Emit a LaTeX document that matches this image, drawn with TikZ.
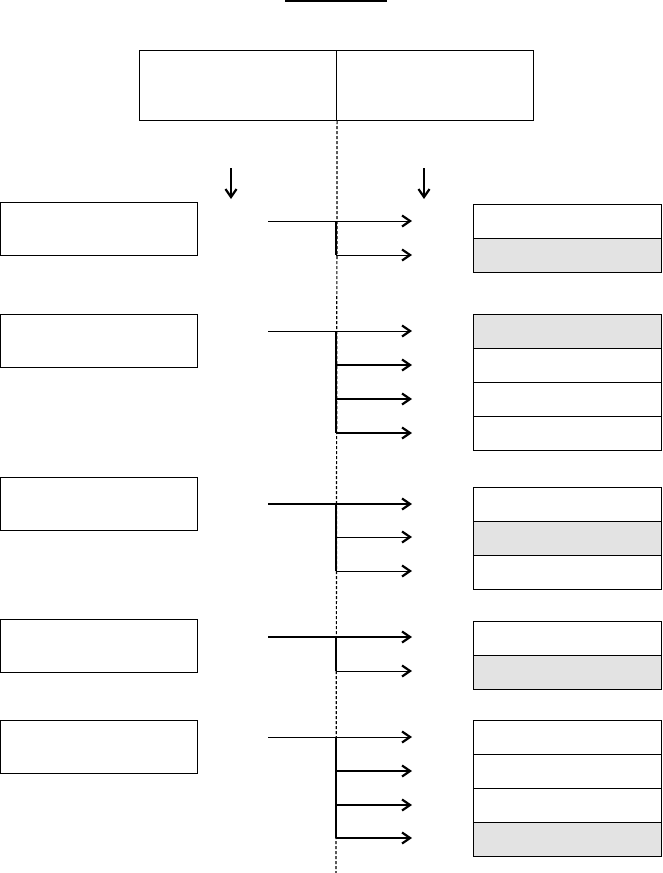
\documentclass[tikz,border=0pt]{standalone}
\usetikzlibrary{arrows.meta}
\definecolor{cellgray}{HTML}{E3E3E3}
\begin{document}
\begin{tikzpicture}[x=1pt,y=-1pt,
  box/.style={draw,line width=1.1pt,rectangle,inner sep=0pt,anchor=north west},
  topbox/.style={box,minimum width=197pt,minimum height=70pt},
  lbox/.style={box,minimum width=197pt,minimum height=53pt},
  rbox/.style={box,minimum width=188pt,minimum height=34pt},
  gbox/.style={rbox,fill=cellgray},
  arr/.style={-{Straight Barb[length=8pt,width=11pt,line width=2.2pt 0]},line width=1pt},
  divider/.style={dash pattern=on 3pt off 2pt,line width=1.2pt}]
\useasboundingbox (0,0) rectangle (662,873);
% title underline
\coordinate (u1) at (285,1);
\coordinate (u2) at (387,1);
\draw[line width=2pt] (u1) -- (u2);
% top box
\node[topbox] (topL) at (139,50) {};
\node[topbox] (topR) at (336,50) {};
% dashed divider
\coordinate (dend) at (336,873);
\draw[divider] (topL.south east) -- (dend);
% down arrows
\coordinate (d1a) at (231,168);
\coordinate (d1b) at (231,199);
\coordinate (d2a) at (424,168);
\coordinate (d2b) at (424,199);
\draw[arr,line width=1.4pt] (d1a) -- (d1b);
\draw[arr,line width=1.4pt] (d2a) -- (d2b);
% left boxes
\node[lbox] (L1) at (0,202) {};
\node[lbox] (L2) at (0,314) {};
\node[lbox] (L3) at (0,477) {};
\node[lbox] (L4) at (0,619) {};
\node[lbox] (L5) at (0,720) {};
% right boxes
\node[rbox] (R11) at (473,204) {};
\node[gbox] (R12) at (473,238) {};
\node[gbox] (R21) at (473,314) {};
\node[rbox] (R22) at (473,348) {};
\node[rbox] (R23) at (473,382) {};
\node[rbox] (R24) at (473,416) {};
\node[rbox] (R31) at (473,487) {};
\node[gbox] (R32) at (473,521) {};
\node[rbox] (R33) at (473,555) {};
\node[rbox] (R41) at (473,621) {};
\node[gbox] (R42) at (473,655) {};
\node[rbox] (R51) at (473,720) {};
\node[rbox] (R52) at (473,754) {};
\node[rbox] (R53) at (473,788) {};
\node[gbox] (R54) at (473,822) {};
% main arrows
\foreach \y/\w [count=\i] in {221/1, 331/1, 504/1.7, 637/1.7, 737/1}{
  \coordinate (s\i) at (268,\y);
  \coordinate (e\i) at (412,\y);
  \draw[arr,line width=\w pt] (s\i) -- (e\i);
}
% vertical branch lines
\foreach \a/\b [count=\i] in {221/255, 331/433, 504/571, 637/671, 737/838}{
  \coordinate (va\i) at (336,\a);
  \coordinate (vb\i) at (336,\b);
  \draw[line width=1.4pt] (va\i) -- (vb\i);
}
% branch arrows
\foreach \y/\w [count=\i] in {255/1, 365/1.7, 399/1.7, 433/1.7, 537/1, 571/1, 671/1, 771/1.7, 805/1.7, 838/1.7}{
  \coordinate (bs\i) at (336,\y);
  \coordinate (be\i) at (412,\y);
  \draw[arr,line width=\w pt] (bs\i) -- (be\i);
}
\end{tikzpicture}
\end{document}
